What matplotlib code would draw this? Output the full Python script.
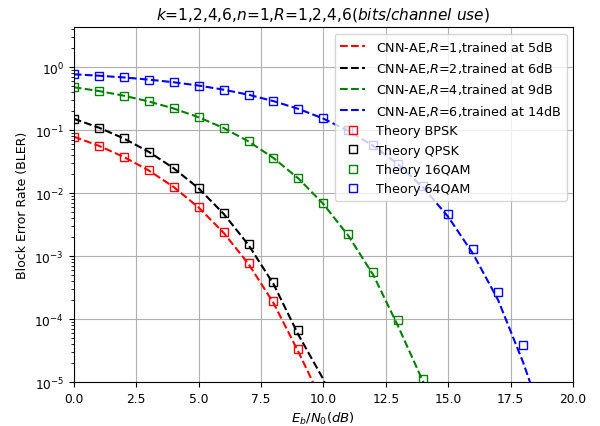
import matplotlib
matplotlib.use('Agg')
import matplotlib.pyplot as plt

# Eb/N0 grid (dB)
snr = [0, 1, 2, 3, 4, 5, 6, 7, 8, 9, 10, 11, 12, 13, 14, 15, 16, 17, 18, 19]

# theory curves (markers)
bpsk = [7.86e-2, 5.63e-2, 3.75e-2, 2.29e-2, 1.25e-2, 5.95e-3, 2.39e-3, 7.73e-4, 1.91e-4, 3.36e-5]
qpsk = [1.51e-1, 1.095e-1, 7.37e-2, 4.53e-2, 2.48e-2, 1.19e-2, 4.77e-3, 1.55e-3, 3.82e-4, 6.7e-5]
qam16 = [4.79e-1, 4.17e-1, 3.52e-1, 2.856e-1, 2.208e-1, 1.606e-1, 1.083e-1, 6.67e-2, 3.66e-2,
         1.748e-2, 7.0e-3, 2.25e-3, 5.54e-4, 9.7e-5, 1.1e-5]
qam64 = [7.69e-1, 7.30e-1, 6.85e-1, 6.33e-1, 5.74e-1, 5.09e-1, 4.38e-1, 3.64e-1, 2.89e-1, 2.18e-1,
         1.53e-1, 9.88e-2, 5.75e-2, 2.946e-2, 1.288e-2, 4.63e-3, 1.30e-3, 2.70e-4, 3.82e-5]

# CNN-AE curves (dashed)
ae_r1 = [7.86e-2, 5.63e-2, 3.75e-2, 2.29e-2, 1.25e-2, 5.9e-3, 2.35e-3, 7.5e-4, 1.8e-4, 3.0e-5, 4.5e-6]
ae_r2 = [1.51e-1, 1.095e-1, 7.37e-2, 4.53e-2, 2.48e-2, 1.19e-2, 4.7e-3, 1.5e-3, 3.6e-4, 5.6e-5, 1.1e-5, 1.0e-6]
ae_r4 = [4.79e-1, 4.17e-1, 3.52e-1, 2.85e-1, 2.2e-1, 1.6e-1, 1.08e-1, 6.6e-2, 3.6e-2,
         1.7e-2, 6.7e-3, 2.1e-3, 5.0e-4, 7.6e-5, 1.0e-5, 1.0e-6]
ae_r6 = [7.69e-1, 7.30e-1, 6.85e-1, 6.33e-1, 5.74e-1, 5.09e-1, 4.38e-1, 3.64e-1, 2.88e-1, 2.17e-1,
         1.52e-1, 9.7e-2, 5.6e-2, 2.85e-2, 1.22e-2, 4.2e-3, 1.08e-3, 2.0e-4, 2.06e-5, 1.5e-6]

ae_labels = ['CNN-AE,$R$=1,trained at 5dB', 'CNN-AE,$R$=2,trained at 6dB',
             'CNN-AE,$R$=4,trained at 9dB', 'CNN-AE,$R$=6,trained at 14dB']
th_labels = ['Theory BPSK', 'Theory QPSK', 'Theory 16QAM', 'Theory 64QAM']
colors = ['r', 'k', 'g', 'b']

plt.rcParams['font.size'] = 8.8
fig = plt.figure(figsize=(6, 4.27), dpi=100)
ax = fig.add_axes([0.123, 0.103, 0.832, 0.831])

for ys, lab, c in zip([ae_r1, ae_r2, ae_r4, ae_r6], ae_labels, colors):
    ax.semilogy(snr[:len(ys)], ys, '--', color=c, lw=1.5, label=lab)
for ys, lab, c in zip([bpsk, qpsk, qam16, qam64], th_labels, colors):
    ax.semilogy(snr[:len(ys)], ys, 's', color=c, mfc='none', ms=5.5, mew=1.0, label=lab)

ax.set_xlim(0, 20)
ax.set_ylim(1e-5, 4.3)
ax.grid(True)
ax.set_xlabel('$E_b/N_0(dB)$', fontsize=9.5)
ax.set_ylabel('Block Error Rate (BLER)', fontsize=9)
ax.set_title('$k$=1,2,4,6,$n$=1,$R$=1,2,4,6($bits/channel\\ use$)', fontsize=11.1)
ax.legend(loc='upper right', fontsize=9.2)

fig.savefig('out.png', dpi=100)
